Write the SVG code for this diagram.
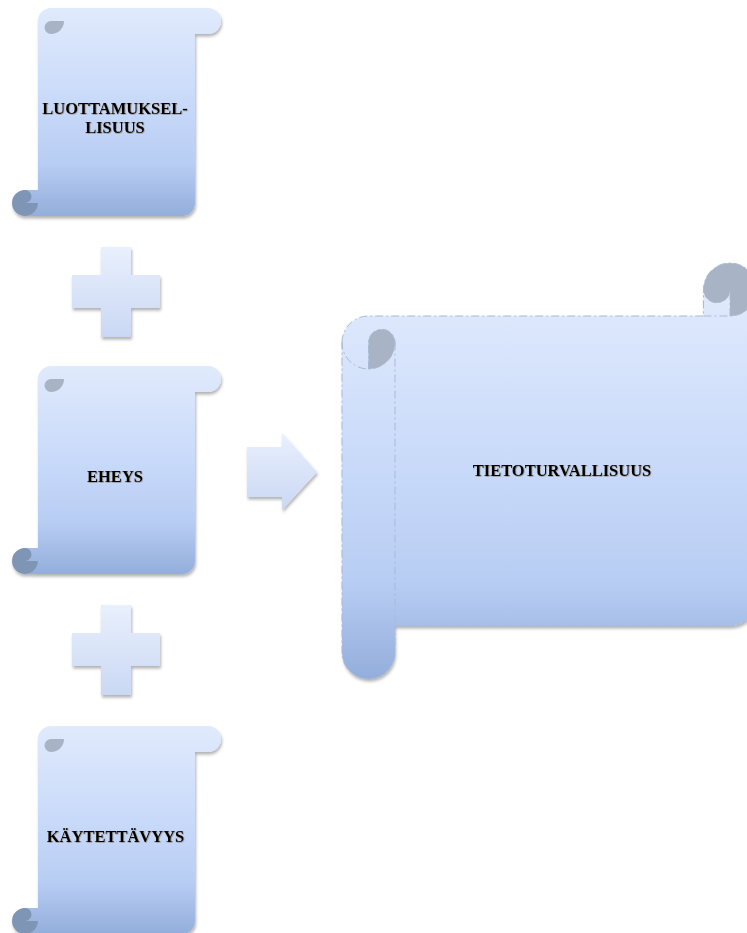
<svg xmlns="http://www.w3.org/2000/svg" xmlns:xlink="http://www.w3.org/1999/xlink" width="747" height="933" viewBox="0 0 747 933">
  <style>
    .label { font-family: "Liberation Serif", "Times New Roman", serif; font-weight: bold; font-size: 16.5px; fill: #000; text-anchor: middle; filter: url(#textShadow); }
    .scroll { fill: url(#scrollFill); }
    .markLight { fill: #a8b3c6; }
    .markDark { fill: #7f95b6; }
    .outline { fill: none; stroke: #a9bad6; stroke-width: 1; stroke-dasharray: 8 3 2 3; }
    .sign { fill: url(#signFill); filter: url(#shadow); }
  </style>
  <defs>
    <linearGradient id="scrollFill" x1="0" y1="0" x2="0" y2="1">
      <stop offset="0" stop-color="#e0eafc"/>
      <stop offset="0.5" stop-color="#c6d8f9"/>
      <stop offset="0.75" stop-color="#b8cdf3"/>
      <stop offset="1" stop-color="#93aedb"/>
    </linearGradient>
    <linearGradient id="signFill" x1="0" y1="0" x2="0" y2="1">
      <stop offset="0" stop-color="#e9f0fd"/>
      <stop offset="1" stop-color="#cad8f4"/>
    </linearGradient>
    <filter id="shadow" x="-10%" y="-10%" width="125%" height="125%">
      <feDropShadow dx="1" dy="2.5" stdDeviation="1.5" flood-color="#000" flood-opacity="0.3"/>
    </filter>
    <filter id="textShadow" x="-10%" y="-30%" width="120%" height="160%">
      <feDropShadow dx="0.6" dy="0.6" stdDeviation="0.5" flood-color="#5a4a2a" flood-opacity="0.6"/>
    </filter>
    <!-- vertical scroll, 209 x 208, drawn from its top edge -->
    <g id="vscroll">
      <path class="scroll" d="M25,208 A13,13 0 0 0 38,195 L25,195 A6.5,6.5 0 0 1 25,182 L38,182 L38,13 A13,13 0 0 1 51,0 L208,0 A13,13 0 0 1 208,26 L195,26 L195,195 A13,13 0 0 1 182,208 Z"/>
      <path class="markLight" d="M64,13 A13,13 0 0 1 51,26 A6.5,6.5 0 0 1 51,13 Z"/>
      <path class="markDark" d="M38,195 A13,13 0 1 1 25,182 A6.5,6.5 0 0 1 25,195 Z"/>
    </g>
  </defs>

  <g id="node-luottamuksellisuus">
    <use xlink:href="#vscroll" href="#vscroll" transform="translate(0,8)" filter="url(#shadow)"/>
    <text class="label" x="115" y="114">LUOTTAMUKSEL-</text>
    <text class="label" x="115" y="133">LISUUS</text>
  </g>

  <g id="node-eheys">
    <use xlink:href="#vscroll" href="#vscroll" transform="translate(0,366)" filter="url(#shadow)"/>
    <text class="label" x="115" y="482">EHEYS</text>
  </g>

  <g id="node-kaytettavyys">
    <use xlink:href="#vscroll" href="#vscroll" transform="translate(0,726)" filter="url(#shadow)"/>
    <text class="label" x="115.5" y="842">KÄYTETTÄVYYS</text>
  </g>

  <g id="node-tietoturvallisuus">
    <g filter="url(#shadow)">
      <path class="scroll" d="M756.5,289.5 A26.5,26.5 0 0 1 730,316 L730,289.5 A13.25,13.25 0 0 1 703.5,289.5 L703.5,316 L368.5,316 A26.5,26.5 0 0 0 342,342.5 L342,652.5 A26.5,26.5 0 0 0 395,652.5 L395,626 L730,626 A26.5,26.5 0 0 0 756.5,599.5 Z"/>
      <path class="markLight" d="M368.5,369 A26.5,26.5 0 0 0 395,342.5 A13.25,13.25 0 0 0 368.5,342.5 Z"/>
      <path class="markLight" d="M730,316 A26.5,26.5 0 1 0 703.5,289.5 A13.25,13.25 0 0 0 730,289.5 Z"/>
    </g>
    <path class="outline" d="M342,342.5 A26.5,26.5 0 0 1 368.5,316 L703.5,316 L703.5,289.5 A26.5,26.5 0 0 1 756.5,289.5 L756.5,599.5 A26.5,26.5 0 0 1 730,626 L395,626 L395,652.5 A26.5,26.5 0 0 1 342,652.5 Z M703.5,316 L730,316 A26.5,26.5 0 0 0 756.5,289.5 M730,316 L730,289.5 A13.25,13.25 0 0 1 703.5,289.5 M368.5,369 L368.5,342.5 A13.25,13.25 0 0 1 395,342.5 A26.5,26.5 0 0 1 342,342.5 M395,342.5 L395,626"/>
    <text class="label" x="562" y="476">TIETOTURVALLISUUS</text>
  </g>

  <g id="connectors">
    <path class="sign" d="M101,247 H131 V275 H160 V308 H131 V337 H101 V308 H72 V275 H101 Z"/>
    <path class="sign" d="M101,605 H131 V633 H160 V666 H131 V695 H101 V666 H72 V633 H101 Z"/>
    <path class="sign" d="M247,447 H282 V433 L317,472 L282,510 V497 H247 Z"/>
  </g>
</svg>
